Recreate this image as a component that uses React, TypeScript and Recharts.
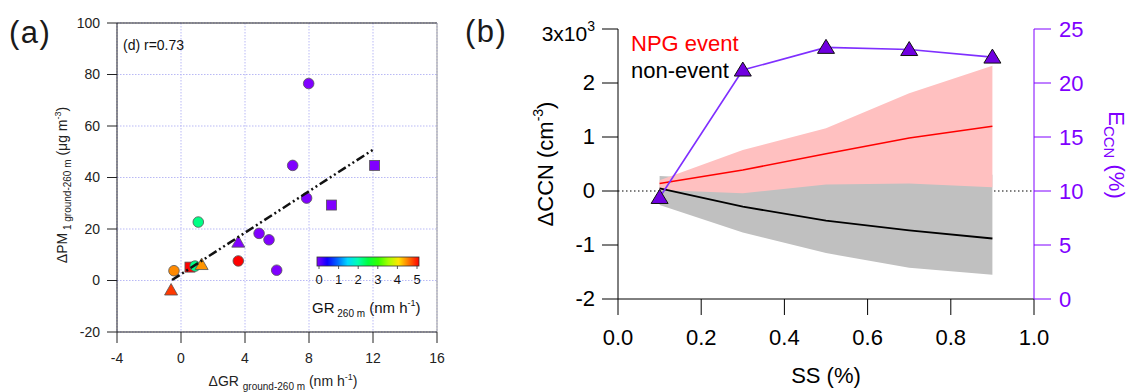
import React from 'react'
import {
  ScatterChart,
  Scatter,
  ComposedChart,
  Line,
  Area,
  XAxis,
  YAxis,
  CartesianGrid,
  ReferenceLine,
} from 'recharts'

const FONT = '"Liberation Sans", Arial, Helvetica, sans-serif'
const PURPLE = '#7f00ff'

// ---- panel (a): ΔPM1 vs ΔGR, coloured by GR at 260 m ----
const dGR = [7.98, 6.98, 12.1, 7.85, 9.4, 1.08, 4.88, 5.5, 3.58, 3.58, 5.98, -0.44, -0.62, 0.56, 0.88, 1.29]
const dPM = [76.5, 44.7, 44.7, 32.0, 29.3, 22.7, 18.3, 15.8, 14.9, 7.6, 4.0, 3.8, -3.7, 5.2, 5.6, 6.2]
const gr260 = [0, 0, 0, 0, 0, 2.2, 0, 0, 0, 5, 0, 4.4, 4.75, 5, 2.2, 4.35]
const markers = [
  'circle', 'circle', 'square', 'circle', 'square', 'circle', 'circle', 'circle',
  'triangle', 'circle', 'circle', 'circle', 'triangle', 'square', 'circle', 'triangle',
]
const fitGR = [-0.56, 12.08]
const fitPM = [0.2, 51.1]
const grTicks = [-4, 0, 4, 8, 12, 16]
const pmTicks = [-20, 0, 20, 40, 60, 80, 100]
const cbTicks = [0, 1, 2, 3, 4, 5]

// ---- panel (b): ΔCCN and E_CCN vs SS ----
const ss = [0.1, 0.3, 0.5, 0.7, 0.9]
const npgMean = [0.14, 0.39, 0.69, 0.98, 1.2]
const npgLow = [0.02, -0.04, 0.12, 0.14, 0.07]
const npgHigh = [0.2, 0.76, 1.16, 1.81, 2.32]
const nonMean = [0.05, -0.29, -0.55, -0.73, -0.88]
const nonLow = [-0.26, -0.77, -1.15, -1.42, -1.55]
const nonHigh = [0.28, 0.2, 0.3, 0.35, 0.3]
const eccn = [9.4, 21.2, 23.3, 23.1, 22.4]
const ssTicks = [0, 0.2, 0.4, 0.6, 0.8, 1.0]
const ccnTicks = [-2, -1, 0, 1, 2, 3]
const eTicks = [0, 5, 10, 15, 20, 25]
const zeroSS = [0, 1]

const colorFor = (gr: number) => `hsl(${270 - 54 * gr}, 100%, 50%)`

const scatterData = dGR.map((x, i) => ({ x, y: dPM[i], gr: gr260[i], kind: markers[i] }))
const fitData = fitGR.map((x, i) => ({ x, y: fitPM[i] }))

const ccnData = ss.map((s, i) => ({
  ss: s,
  npg: npgMean[i],
  non: nonMean[i],
  npgBand: [npgLow[i], npgHigh[i]],
  nonBand: [nonLow[i], nonHigh[i]],
  e: eccn[i],
}))
const zeroData = zeroSS.map((s) => ({ ss: s, zero: 0 }))

const Marker = (props: any) => {
  const { cx, cy, payload } = props
  const fill = colorFor(payload.gr)
  const stroke = '#555'
  if (payload.kind === 'square') {
    return <rect x={cx - 5} y={cy - 5} width={10} height={10} fill={fill} stroke={stroke} strokeWidth={0.8} />
  }
  if (payload.kind === 'triangle') {
    return (
      <path
        d={`M${cx},${cy - 6.5}L${cx + 6.5},${cy + 5}L${cx - 6.5},${cy + 5}Z`}
        fill={fill}
        stroke={stroke}
        strokeWidth={0.8}
      />
    )
  }
  return <circle cx={cx} cy={cy} r={5.3} fill={fill} stroke={stroke} strokeWidth={0.8} />
}

const Tri = (props: any) => {
  const { cx, cy, index } = props
  if (cx == null || cy == null) return <g key={index} />
  return (
    <path
      key={index}
      d={`M${cx},${cy - 8}L${cx + 8.5},${cy + 6}L${cx - 8.5},${cy + 6}Z`}
      fill="#7000e0"
      stroke="#111"
      strokeWidth={1}
    />
  )
}

const CcnTick = (props: any) => {
  const { x, y, payload } = props
  if (payload.value === 3) {
    return (
      <text x={x} y={y + 12} textAnchor="end" fontSize={21} fontFamily={FONT} fill="#000">
        3x10<tspan fontSize={14} dy={-10}>3</tspan>
      </text>
    )
  }
  return (
    <text x={x} y={y} dy="0.34em" textAnchor="end" fontSize={22} fontFamily={FONT} fill="#000">
      {payload.value}
    </text>
  )
}

function PanelA() {
  return (
    <ScatterChart width={460} height={392} margin={{ top: 23, right: 23, bottom: 0, left: 0 }}>
      <CartesianGrid stroke="#b9b9f5" strokeWidth={1} strokeDasharray="1.5 1.5" />
      <XAxis
        type="number"
        dataKey="x"
        domain={[-4, 16]}
        ticks={grTicks}
        interval={0}
        height={60}
        tickSize={11}
        tickMargin={10}
        stroke="#222"
        tick={{ fontSize: 14, fill: '#222', fontFamily: FONT }}
      />
      <YAxis
        type="number"
        dataKey="y"
        domain={[-20, 100]}
        ticks={pmTicks}
        interval={0}
        width={117}
        tickSize={10}
        tickMargin={7}
        stroke="#222"
        tick={{ fontSize: 14, fill: '#222', fontFamily: FONT }}
      />
      <ReferenceLine y={100} stroke="#222" />
      <ReferenceLine x={16} stroke="#999" />
      <Scatter data={scatterData} shape={Marker} isAnimationActive={false} />
      <Scatter
        data={fitData}
        line={{ stroke: '#111', strokeWidth: 2.5, strokeDasharray: '9 3 2 3 2 3' }}
        shape={() => <g />}
        isAnimationActive={false}
      />
    </ScatterChart>
  )
}

function PanelB() {
  return (
    <ComposedChart width={668} height={392} data={ccnData} margin={{ top: 29, right: 0, bottom: 0, left: 0 }}>
      <XAxis
        type="number"
        dataKey="ss"
        domain={[0, 1]}
        ticks={ssTicks}
        interval={0}
        tickFormatter={(v: number) => v.toFixed(1)}
        height={93}
        tickSize={16}
        tickMargin={14}
        stroke="#000"
        tick={{ fontSize: 22, fill: '#000', fontFamily: FONT }}
      />
      <YAxis
        yAxisId="left"
        type="number"
        domain={[-2, 3]}
        ticks={ccnTicks}
        interval={0}
        width={158}
        tickSize={16}
        tickMargin={7}
        stroke="#000"
        tick={CcnTick}
      />
      <YAxis
        yAxisId="right"
        orientation="right"
        type="number"
        domain={[0, 25]}
        ticks={eTicks}
        interval={0}
        width={94}
        tickSize={17}
        tickMargin={8}
        stroke={PURPLE}
        tick={{ fontSize: 22, fill: PURPLE, fontFamily: FONT }}
      />
      <Area
        yAxisId="left"
        data={zeroData}
        dataKey="zero"
        type="linear"
        stroke="#000"
        strokeWidth={1.2}
        strokeDasharray="1.5 2.5"
        fill="none"
        isAnimationActive={false}
      />
      <Area
        yAxisId="left"
        dataKey="nonBand"
        type="linear"
        stroke="none"
        fill="#c0c0c0"
        fillOpacity={1}
        isAnimationActive={false}
      />
      <Area
        yAxisId="left"
        dataKey="npgBand"
        type="linear"
        stroke="none"
        fill="#ffc0c0"
        fillOpacity={1}
        isAnimationActive={false}
      />
      <Line yAxisId="left" dataKey="npg" type="linear" stroke="#ff0000" strokeWidth={1.6} dot={false} isAnimationActive={false} />
      <Line yAxisId="left" dataKey="non" type="linear" stroke="#000" strokeWidth={1.8} dot={false} isAnimationActive={false} />
      <Line yAxisId="right" dataKey="e" type="linear" stroke="#7f2fff" strokeWidth={1.6} dot={Tri} isAnimationActive={false} />
    </ComposedChart>
  )
}

function Overlay() {
  const cbX0 = 319
  const cbX1 = 417
  const cbStops = [0, 0.5, 1, 1.5, 2, 2.5, 3, 3.5, 4, 4.5, 5]
  return (
    <svg
      width={1128}
      height={392}
      style={{ position: 'absolute', left: 0, top: 0, pointerEvents: 'none' }}
      fontFamily={FONT}
    >
      <defs>
        <linearGradient id="cb" x1="0" x2="1" y1="0" y2="0">
          {cbStops.map((g) => (
            <stop key={g} offset={`${(g / 5) * 100}%`} stopColor={colorFor(g)} />
          ))}
        </linearGradient>
      </defs>
      {/* panel letters */}
      <text x={9} y={43} fontSize={31} letterSpacing={1.5} fill="#1a1a1a">(a)</text>
      <text x={465} y={42} fontSize={31} letterSpacing={1.5} fill="#1a1a1a">(b)</text>

      {/* panel (a) annotations */}
      <text x={123} y={50} fontSize={14} fill="#111">(d) r=0.73</text>
      <text transform="translate(67,185) rotate(-90)" textAnchor="middle" fontSize={14} fill="#222">
        ΔPM<tspan fontSize={10} dy={4}> 1 ground-260 m</tspan>
        <tspan fontSize={14} dy={-4}> (μg m</tspan>
        <tspan fontSize={9} dy={-6}>-3</tspan>
        <tspan fontSize={14} dy={6}>)</tspan>
      </text>
      <text x={283} y={386} textAnchor="middle" fontSize={14} fill="#222">
        ΔGR <tspan fontSize={10} dy={4}> ground-260 m</tspan>
        <tspan fontSize={14} dy={-4}> (nm h</tspan>
        <tspan fontSize={9} dy={-6}>-1</tspan>
        <tspan fontSize={14} dy={6}>)</tspan>
      </text>
      <rect x={317} y={257} width={102} height={9} fill="url(#cb)" stroke="#333" strokeWidth={0.8} />
      {cbTicks.map((t) => {
        const x = cbX0 + ((cbX1 - cbX0) * t) / 5
        return (
          <g key={t}>
            <line x1={x} x2={x} y1={266} y2={269} stroke="#333" strokeWidth={0.8} />
            <text x={x} y={284} textAnchor="middle" fontSize={13} fill="#111">{t}</text>
          </g>
        )
      })}
      <text x={312} y={313} fontSize={15} fill="#111">
        GR<tspan fontSize={10} dy={4}> 260 m</tspan>
        <tspan fontSize={15} dy={-4}> (nm h</tspan>
        <tspan fontSize={9} dy={-7}>-1</tspan>
        <tspan fontSize={15} dy={7}>)</tspan>
      </text>

      {/* panel (b) annotations */}
      <text x={631} y={51} fontSize={22} fill="#ff0000">NPG event</text>
      <text x={631} y={78} fontSize={22} fill="#000">non-event</text>
      <text transform="translate(553,164) rotate(-90)" textAnchor="middle" fontSize={22} fill="#000">
        ΔCCN (cm<tspan fontSize={14} dy={-10}>-3</tspan>
        <tspan fontSize={22} dy={10}>)</tspan>
      </text>
      <text transform="translate(1109,155) rotate(90)" textAnchor="middle" fontSize={22} fill={PURPLE}>
        E<tspan fontSize={15} dy={5}>CCN</tspan>
        <tspan fontSize={22} dy={-5}> (%)</tspan>
      </text>
      <text x={826} y={383} textAnchor="middle" fontSize={22} fill="#000">SS (%)</text>
    </svg>
  )
}

export default function App() {
  return (
    <div style={{ position: 'absolute', left: 0, top: 0, width: 1128, height: 392, background: '#fff' }}>
      <div style={{ position: 'absolute', left: 0, top: 0 }}>
        <PanelA />
      </div>
      <div style={{ position: 'absolute', left: 460, top: 0 }}>
        <PanelB />
      </div>
      <Overlay />
    </div>
  )
}
